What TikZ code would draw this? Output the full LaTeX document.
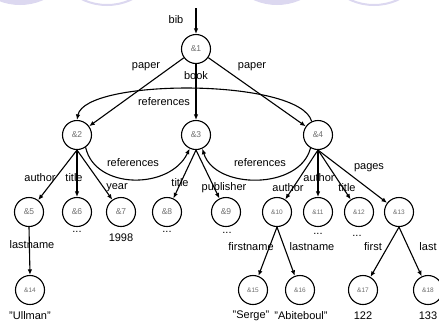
\documentclass[tikz,border=0pt]{standalone}
\usepackage{fontspec}
\setmainfont{Liberation Sans}
\usetikzlibrary{arrows.meta}
\definecolor{oemInk}{HTML}{000000}
\definecolor{oemGray}{HTML}{6E6E6E}
\definecolor{oemLilac}{HTML}{DCD8F0}
\tikzset{
  every picture/.style={font=\fontsize{11}{13}\selectfont, text=oemInk},
  oem obj/.style={circle, draw=oemInk, line width=1.1pt, fill=white,
    minimum size=29pt, inner sep=0pt, text=oemGray,
    font=\fontsize{8.5}{9}\selectfont},
  oem obj small/.style={oem obj, font=\fontsize{6.5}{7}\selectfont},
  oem edge/.style={-{Latex[length=5.5pt,width=4.5pt]},
    draw=oemInk, line width=1.1pt},
  oem ref/.style={oem edge},
  oem label/.style={inner sep=1pt},
  oem value/.style={inner sep=1pt},
  oem blob/.style={fill=oemLilac, draw=none},
  oem ring/.style={draw=oemLilac, line width=2pt}
}

\begin{document}
\begin{tikzpicture}[x=1pt,y=-1pt]
  \useasboundingbox (0,0) rectangle (439,322);
  % faint slide decoration along the top edge
  \begin{scope}
    \clip (0,0) rectangle (439,322);
    \fill[oem blob] (20,-52.7) circle[radius=57.7];
    \draw[oem ring] (107,-52.7) circle[radius=57.7];
    \fill[oem blob] (277,-52.7) circle[radius=57.7];
    \draw[oem ring] (374,-52.7) circle[radius=57.7];
  \end{scope}

  % objects
  \node[oem obj] (o1) at (196,49) {\&1};
  \node[oem obj] (o2) at (77,135) {\&2};
  \node[oem obj] (o3) at (196,135) {\&3};
  \node[oem obj] (o4) at (318,135) {\&4};
  \node[oem obj] (o5) at (29,212) {\&5};
  \node[oem obj] (o6) at (77,212) {\&6};
  \node[oem obj] (o7) at (121,212) {\&7};
  \node[oem obj] (o8) at (167,212) {\&8};
  \node[oem obj] (o9) at (226,212) {\&9};
  \node[oem obj small] (o10) at (277,212) {\&10};
  \node[oem obj small] (o11) at (318,212) {\&11};
  \node[oem obj small] (o12) at (359,212) {\&12};
  \node[oem obj small] (o13) at (399,212) {\&13};
  \node[oem obj small] (o14) at (30,290) {\&14};
  \node[oem obj small] (o15) at (253,290) {\&15};
  \node[oem obj small] (o16) at (300,290) {\&16};
  \node[oem obj small] (o17) at (363,290) {\&17};
  \node[oem obj small] (o18) at (428,290) {\&18};
  \coordinate (root) at (196,8);

  % edges
  \draw[oem edge] (root) -- (o1);
  \draw[oem edge] (o1) -- (o2);
  \draw[oem edge] (o1.south) -- (o3.north);
  \draw[oem edge] (o1) -- (o4);
  \foreach \c in {o5,o6,o7} \draw[oem edge] (o2.south) -- (\c);
  \foreach \c in {o8,o9} \draw[oem edge] (o3.south) -- (\c);
  \foreach \c in {o10,o11,o12,o13} \draw[oem edge] (o4.south) -- (\c);
  \draw[oem edge] (o5.south) -- (o14.north);
  \foreach \c in {o15,o16} \draw[oem edge] (o10.south) -- (\c);
  \foreach \c in {o17,o18} \draw[oem edge] (o13.south) -- (\c);

  % references
  \draw[oem ref] (o4.115) .. controls (300,78) and (85,78) .. (o2.north);
  \draw[oem ref] (o2.-55) .. controls (95,190) and (170,190) .. (o3.245);
  \draw[oem ref] (o4.240) .. controls (300,190) and (215,190) .. (o3.-65);

  % edge labels
  \node[oem label] (lbib) at (176,20) {bib};
  \node[oem label] (lpaperA) at (146,67) {paper};
  \node[oem label] (lbook) at (196,76) {book};
  \node[oem label] (lpaperB) at (252,67) {paper};
  \node[oem label] (lrefTop) at (164,102) {references};
  \node[oem label] (lrefL) at (133,163) {references};
  \node[oem label] (lrefR) at (260,163) {references};
  \node[oem label] (lauthorA) at (40,178) {author};
  \node[oem label] (ltitleA) at (74,178) {title};
  \node[oem label] (lyear) at (117,188) {year};
  \node[oem label] (ltitleB) at (180,183) {title};
  \node[oem label] (lpublisher) at (224,188) {publisher};
  \node[oem label] (lauthorB) at (288,188) {author};
  \node[oem label] (lauthorC) at (319,178) {author};
  \node[oem label] (ltitleC) at (347,188) {title};
  \node[oem label] (lpages) at (369,168) {pages};
  \node[oem label] (llastA) at (32,245) {lastname};
  \node[oem label] (lfirst) at (251,247) {firstname};
  \node[oem label] (llastB) at (312,247) {lastname};
  \node[oem label] (lfirstB) at (373,247) {first};
  \node[oem label] (llast) at (428,247) {last};

  % atomic values
  \node[oem value] (v6) at (77,232) {...};
  \node[oem value] (v7) at (121,238) {1998};
  \node[oem value] (v8) at (167,232) {...};
  \node[oem value] (v9) at (227,233) {...};
  \node[oem value] (v11) at (318,234) {...};
  \node[oem value] (v12) at (357,236) {...};
  \node[oem value] (v14) at (30,316) {"Ullman"};
  \node[oem value] (v15) at (251,316) {"Serge"};
  \node[oem value] (v16) at (301,316) {"Abiteboul"};
  \node[oem value] (v17) at (363,316) {122};
  \node[oem value] (v18) at (428,316) {133};
\end{tikzpicture}
\end{document}
